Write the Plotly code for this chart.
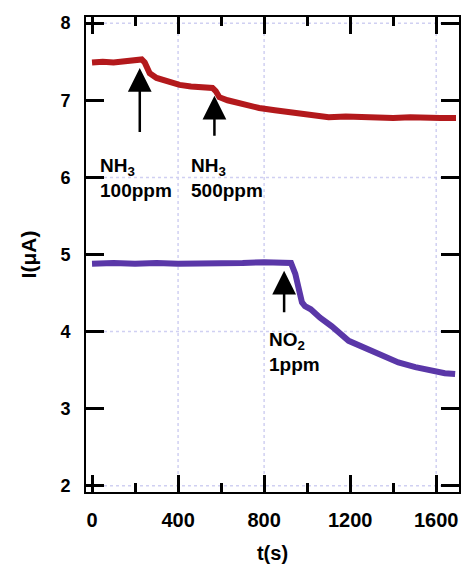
import plotly.graph_objects as go

# Data
t_nh3 = [0, 50, 100, 150, 175, 200, 231, 245, 268, 300, 350, 407, 460, 510, 560, 575, 592,
         630, 670, 720, 777, 850, 948, 1030, 1100, 1180, 1253, 1330, 1400, 1480, 1550, 1620, 1692]
i_nh3 = [7.49, 7.50, 7.49, 7.50, 7.51, 7.52, 7.53, 7.49, 7.35, 7.29, 7.24, 7.20, 7.18, 7.17, 7.16, 7.12, 7.04,
         7.00, 6.97, 6.93, 6.90, 6.87, 6.83, 6.79, 6.78, 6.79, 6.78, 6.78, 6.77, 6.78, 6.77, 6.77, 6.77]

t_no2 = [0, 100, 200, 300, 400, 500, 600, 700, 800, 850, 925, 945, 962, 976, 990, 1017, 1060,
         1114, 1193, 1272, 1346, 1424, 1503, 1577, 1640, 1688]
i_no2 = [4.88, 4.89, 4.88, 4.89, 4.88, 4.88, 4.89, 4.89, 4.90, 4.90, 4.89, 4.75, 4.53, 4.38, 4.33, 4.29, 4.18,
         4.07, 3.88, 3.78, 3.69, 3.60, 3.54, 3.49, 3.46, 3.45]

# Gas exposure events: (time, arrow tip, arrow tail, label)
event_t = [222, 569, 893]
event_tip = [7.42, 7.06, 4.79]
event_tail = [6.57, 6.52, 4.23]
event_labels = ["NH<sub>3</sub><br>100ppm", "NH<sub>3</sub><br>500ppm", "NO<sub>2</sub><br>1ppm"]
label_x = [30, 450, 812]
label_y = [5.99, 5.99, 3.73]

x_ticks = [0, 400, 800, 1200, 1600]
y_ticks = [2, 3, 4, 5, 6, 7, 8]
x_grid = [400, 800, 1600]
y_grid = [2, 4, 6, 8]

FONT = "Liberation Sans, Arial, Helvetica, sans-serif"

fig = go.Figure()
fig.add_trace(go.Scatter(x=t_nh3, y=i_nh3, mode="lines",
                         line=dict(color="#b3191c", width=6), showlegend=False))
fig.add_trace(go.Scatter(x=t_no2, y=i_no2, mode="lines",
                         line=dict(color="#5a37a8", width=6), showlegend=False))

shapes = []
for gx in x_grid:
    shapes.append(dict(type="line", xref="x", yref="paper", x0=gx, x1=gx, y0=0, y1=1,
                       line=dict(color="#d0d0f2", width=1.5, dash="dot"), layer="below"))
for gy in y_grid:
    shapes.append(dict(type="line", xref="paper", yref="y", x0=0, x1=1, y0=gy, y1=gy,
                       line=dict(color="#d0d0f2", width=1.5, dash="dot"), layer="below"))

annotations = []
for tx, tip, tail in zip(event_t, event_tip, event_tail):
    annotations.append(dict(x=tx, y=tip, ax=tx, ay=tail, xref="x", yref="y", axref="x", ayref="y",
                            text="", showarrow=True, arrowhead=2, arrowsize=1.9, arrowwidth=2.5,
                            arrowcolor="black", standoff=0))
for lx, ly, txt in zip(label_x, label_y, event_labels):
    annotations.append(dict(x=lx, y=ly, xref="x", yref="y", text="<b>" + txt + "</b>",
                            showarrow=False, xanchor="left", yanchor="middle", align="left",
                            font=dict(family=FONT, size=19, color="black")))

fig.update_layout(
    width=464, height=564,
    margin=dict(l=86, r=3, t=17, b=72),
    paper_bgcolor="white", plot_bgcolor="white",
    font=dict(family=FONT, color="black"),
    shapes=shapes, annotations=annotations,
    xaxis=dict(range=[-28, 1706], tickvals=x_ticks, ticktext=["<b>%d</b>" % v for v in x_ticks],
               ticks="inside", ticklen=17, tickwidth=2.5, tickcolor="black",
               minor=dict(tickvals=[200, 600, 1000, 1400], ticks="inside", ticklen=9, tickwidth=2.5,
                          tickcolor="black"),
               showline=True, linewidth=2, linecolor="black", mirror="allticks",
               showgrid=False, zeroline=False, ticklabelstandoff=9,
               tickfont=dict(family=FONT, size=20, color="black"),
               title=dict(text="<b>t(s)</b>", font=dict(family=FONT, size=20, color="black"), standoff=16)),
    yaxis=dict(range=[1.92, 8.08], tickvals=y_ticks, ticktext=["<b>%d</b>" % v for v in y_ticks],
               ticks="inside", ticklen=18, tickwidth=2.5, tickcolor="black",
               showline=True, linewidth=2, linecolor="black", mirror="allticks",
               showgrid=False, zeroline=False, ticklabelstandoff=10,
               tickfont=dict(family=FONT, size=18, color="black"),
               title=dict(text="<b>I(μA)</b>", font=dict(family=FONT, size=21, color="black"), standoff=18)),
)

fig.write_html("out.html", config={"displayModeBar": False},
               post_script="document.body.style.margin='0';document.body.style.overflow='hidden';")
